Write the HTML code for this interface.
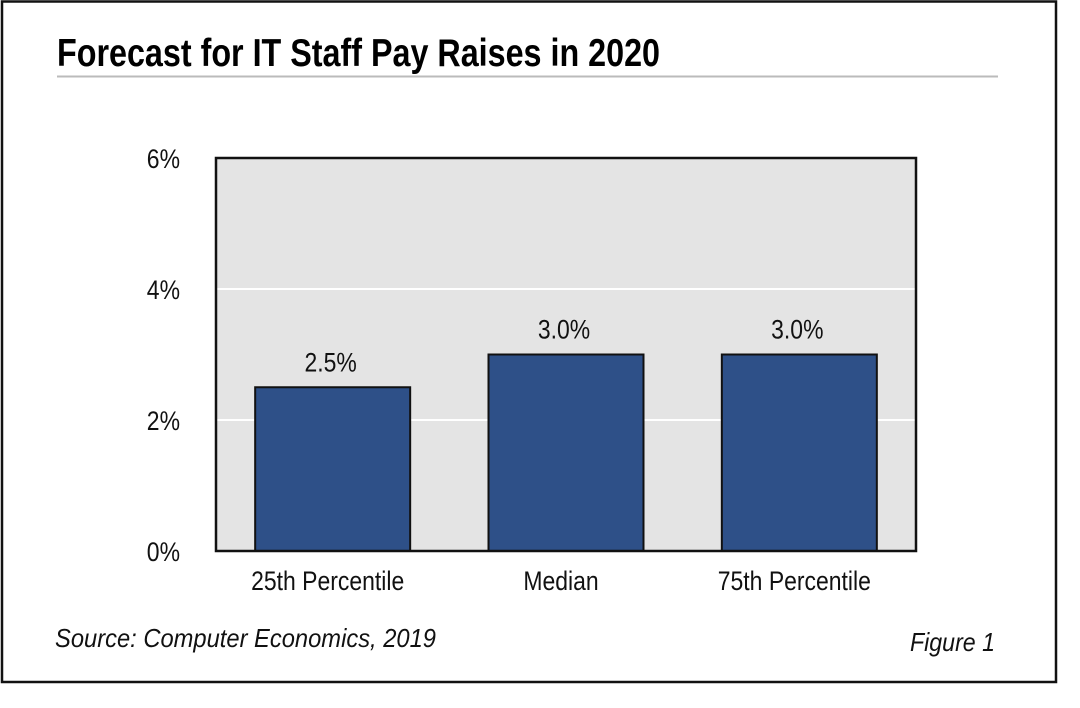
<!DOCTYPE html>
<html><head><meta charset="utf-8"><style>
html,body{margin:0;padding:0;background:#fff}
svg text{font-family:"Liberation Sans Narrow","Liberation Sans",sans-serif}
</style></head><body>
<svg width="1080" height="703" viewBox="0 0 1080 703" xmlns="http://www.w3.org/2000/svg">
<rect x="2" y="1.5" width="1054" height="680.5" fill="#fff" stroke="#111" stroke-width="2.5"/>
<text x="57" y="66" font-size="39" font-weight="bold" fill="#000" textLength="603" lengthAdjust="spacingAndGlyphs">Forecast for IT Staff Pay Raises in 2020</text>
<line x1="57" y1="76.5" x2="998" y2="76.5" stroke="#bbb" stroke-width="2"/>
<rect x="216" y="158" width="700" height="393" fill="#e4e4e4"/>
<g id="grid"></g>
<g id="bars"></g>
<rect x="216" y="158" width="700" height="393" fill="none" stroke="#111" stroke-width="2.5"/>
<g id="labels"></g>
<text x="55" y="647" font-size="26" font-style="italic" fill="#111" textLength="381" lengthAdjust="spacingAndGlyphs">Source: Computer Economics, 2019</text>
<text x="995" y="651" font-size="26" font-style="italic" fill="#111" text-anchor="end" textLength="85" lengthAdjust="spacingAndGlyphs">Figure 1</text>
</svg>
<script>
const categories=["25th Percentile","Median","75th Percentile"];
const values=[2.5,3.0,3.0];
const valueLabels=["2.5%","3.0%","3.0%"];
const yTicks=[0,2,4,6];
const yTickLabels=["0%","2%","4%","6%"];
const NS="http://www.w3.org/2000/svg";
const x0=216,x1=916,y0=551,y1=158,yMax=6;
function yS(v){return y0-(v/yMax)*(y0-y1);}
const band=(x1-x0)/categories.length;
function xC(i){return x0+band*(i+0.5);}
const bw=155;
const cond=0.85;
function mk(tag,attrs,parent){const e=document.createElementNS(NS,tag);for(const k in attrs)e.setAttribute(k,attrs[k]);parent.appendChild(e);return e;}
function condText(t){try{const w=t.getComputedTextLength();t.setAttribute('textLength',(w*cond).toFixed(1));t.setAttribute('lengthAdjust','spacingAndGlyphs');}catch(e){}}
const grid=document.getElementById('grid'),bars=document.getElementById('bars'),labels=document.getElementById('labels');
yTicks.forEach((t,i)=>{
  if(t>0&&t<yMax){const l=mk('line',{x1:x0,x2:x1,y1:yS(t),y2:yS(t),stroke:'#fff','stroke-width':2},grid);
  
  }
  const tx=mk('text',{x:180,y:yS(t)+10,'font-size':27,'text-anchor':'end',fill:'#111'},labels);
  tx.textContent=yTickLabels[i];
  
  
  condText(tx);
});
categories.forEach((c,i)=>{
  const cx=xC(i);
  const r=mk('rect',{x:cx-bw/2,y:yS(values[i]),width:bw,height:y0-yS(values[i]),fill:'#2e5088',stroke:'#111','stroke-width':2},bars);
  
  
  const v=mk('text',{x:cx-2,y:yS(values[i])-16,'font-size':27,'text-anchor':'middle',fill:'#111'},labels);
  v.textContent=valueLabels[i];
  
  
  condText(v);
  const cl=mk('text',{x:cx-5,y:590,'font-size':27,'text-anchor':'middle',fill:'#111'},labels);
  cl.textContent=c;
  
  
  condText(cl);
});
</script>
</body></html>
